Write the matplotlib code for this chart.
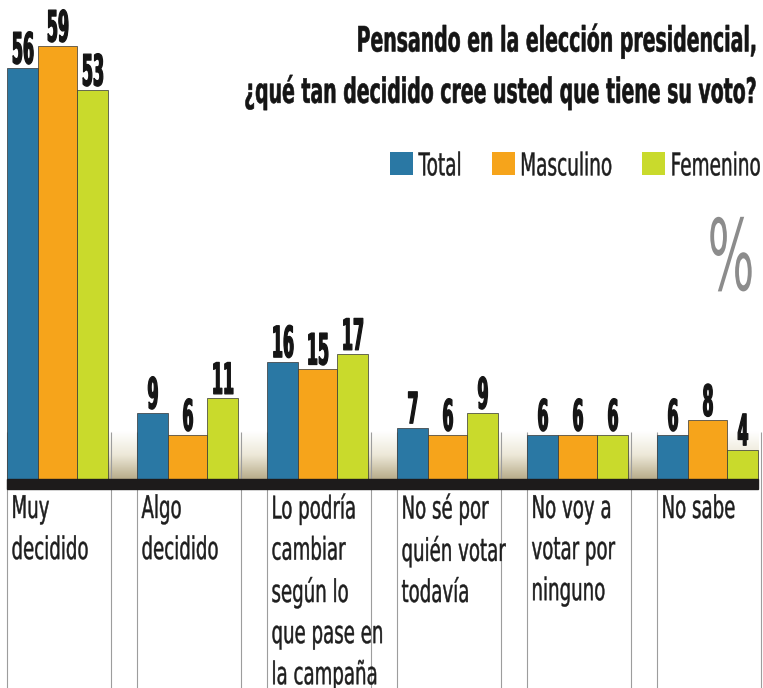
import numpy as np
import matplotlib
matplotlib.use("Agg")
import matplotlib.pyplot as plt
from matplotlib.patches import Rectangle
from matplotlib.transforms import Affine2D
from matplotlib.patheffects import AbstractPathEffect
from matplotlib.legend_handler import HandlerPatch
from matplotlib.container import BarContainer
from matplotlib.colors import LinearSegmentedColormap

# data (%)
categories = ["Muy\ndecidido", "Algo\ndecidido",
              "Lo podría\ncambiar\nsegún lo\nque pase en\nla campaña",
              "No sé por\nquién votar\ntodavía", "No voy a\nvotar por\nninguno",
              "No sabe"]
series = ["Total", "Masculino", "Femenino"]
total = [56, 9, 16, 7, 6, 6]
masculino = [59, 6, 15, 6, 6, 8]
femenino = [53, 11, 17, 9, 6, 4]
colors = ["#2a78a4", "#f6a41b", "#c9da2c"]

title = "Pensando en la elección presidencial,\n¿qué tan decidido cree usted que tiene su voto?"


class Tall(AbstractPathEffect):
    """Stretch glyphs vertically about the baseline -> condensed newspaper look."""

    def __init__(self, sy, lw=0.0):
        super().__init__()
        self.sy = sy
        self.lw = lw

    def draw_path(self, renderer, gc, tpath, affine, rgbFace=None):
        y0 = affine.get_matrix()[1, 2]
        aff = affine + Affine2D().translate(0, -y0).scale(1, self.sy).translate(0, y0)
        gc0 = renderer.new_gc()
        gc0.copy_properties(gc)
        if self.lw and rgbFace is not None:
            gc0.set_linewidth(self.lw)
            gc0.set_foreground(rgbFace)
            gc0.set_joinstyle("round")
        renderer.draw_path(gc0, tpath, aff, rgbFace)
        gc0.restore()


def square(legend, orig_handle, xdescent, ydescent, width, height, fontsize):
    return Rectangle((-xdescent, 0), width, width)


def from_first_bar(handle, orig):
    handle.update_from(orig.patches[0])
    handle.set_edgecolor("none")


PX = 7.34      # pixels per percentage point
BASE = 479     # baseline row in pixels
GRAD_TOP = 432

fig = plt.figure(figsize=(7.63, 6.88), dpi=100)
ax = fig.add_axes([0, 0, 1, 1])

x = np.arange(len(categories))
offsets = [-0.3925, -0.154, 0.146]
widths = [0.2385, 0.30, 0.2385]
left = x - 0.3925
right = x + 0.3846

containers = []
for vals, name, col, off, w in zip([total, masculino, femenino], series, colors, offsets, widths):
    bars = ax.bar(x + off, vals, width=w, align="edge", color=col,
                  edgecolor="#333333", linewidth=0.5, label=name, zorder=3)
    ax.bar_label(bars, padding=1, fontsize=11.5, fontweight="bold", color="#151515",
                 path_effects=[Tall(2.7, 0.9)])
    containers.append(bars)

# shaded floor behind the bars
cmap = LinearSegmentedColormap.from_list("floor", ["#ffffff", "#ede8d8", "#b8ad8b"])
ax.imshow(np.linspace(0, 1, 64)[:, None], cmap=cmap, origin="upper",
          extent=[left[0], right[-1], 0, (BASE - GRAD_TOP) / PX],
          aspect="auto", interpolation="bilinear", zorder=0)

ymin = -(688 - BASE) / PX
ax.vlines(np.r_[left, right + 0.02], ymin, (BASE - GRAD_TOP) / PX,
          color="#9d9d9d", lw=0.8, zorder=1)
ax.add_patch(Rectangle((left[0], -10 / PX), right[-1] - left[0], 10 / PX,
                       color="#1d1b1b", zorder=4))

# first baseline at ~518 px; top of layout box sits one ascent above it
for xl, lab in zip(left, categories):
    ax.text(xl + 4 / 130, (BASE - 504) / PX, lab, ha="left", va="top",
            fontsize=13.1, linespacing=2.65, color="#1e1e1e",
            path_effects=[Tall(1.72, 0.3)])

ax.set_xlim(-58.5 / 130, (763 - 58.5) / 130)
ax.set_ylim(ymin, BASE / PX)
ax.axis("off")

# overlay in pixel units for title, legend and % sign
ov = fig.add_axes([0, 0, 1, 1], facecolor="none")
ov.set_xlim(0, 763)
ov.set_ylim(688, 0)
ov.axis("off")

ov.text(757, 35.5, title, ha="right", va="top", multialignment="right",
        fontsize=13.6, fontweight="bold", linespacing=2.96, color="#151515",
        path_effects=[Tall(1.85, 0.4)])
ov.text(731, 290, "%", ha="center", va="baseline", fontsize=35.5,
        color="#8c8c8c", path_effects=[Tall(2.0)])

leg = ov.legend(containers, series, loc="lower left",
                bbox_to_anchor=(390, 175 + 4.4), bbox_transform=ov.transData,
                ncol=3, frameon=False, fontsize=13.3,
                handlelength=23 / 18.5, handleheight=1.24, handletextpad=0.3,
                columnspacing=1.62, borderpad=0, borderaxespad=0,
                handler_map={BarContainer: HandlerPatch(patch_func=square,
                                                        update_func=from_first_bar)})
for t in leg.get_texts():
    t.set_color("#1e1e1e")
    t.set_path_effects([Tall(1.7, 0.3)])

fig.savefig("out.png", dpi=100)
